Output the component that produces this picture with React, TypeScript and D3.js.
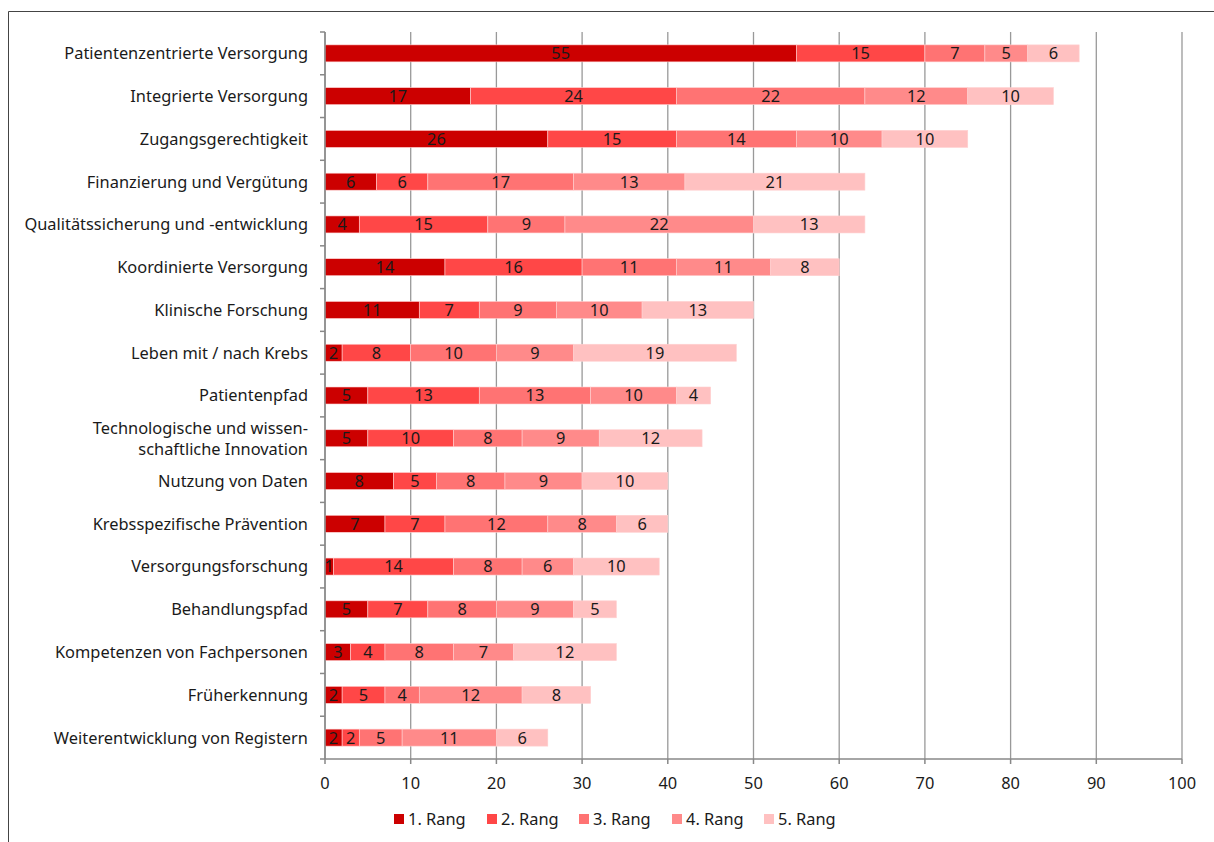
import React from "react";
import * as d3 from "d3";

const categories: string[][] = [
  ["Patientenzentrierte Versorgung"],
  ["Integrierte Versorgung"],
  ["Zugangsgerechtigkeit"],
  ["Finanzierung und Vergütung"],
  ["Qualitätssicherung und -entwicklung"],
  ["Koordinierte Versorgung"],
  ["Klinische Forschung"],
  ["Leben mit / nach Krebs"],
  ["Patientenpfad"],
  ["Technologische und wissen-", "schaftliche Innovation"],
  ["Nutzung von Daten"],
  ["Krebsspezifische Prävention"],
  ["Versorgungsforschung"],
  ["Behandlungspfad"],
  ["Kompetenzen von Fachpersonen"],
  ["Früherkennung"],
  ["Weiterentwicklung von Registern"],
];

const rang1 = [55, 17, 26, 6, 4, 14, 11, 2, 5, 5, 8, 7, 1, 5, 3, 2, 2];
const rang2 = [15, 24, 15, 6, 15, 16, 7, 8, 13, 10, 5, 7, 14, 7, 4, 5, 2];
const rang3 = [7, 22, 14, 17, 9, 11, 9, 10, 13, 8, 8, 12, 8, 8, 8, 4, 5];
const rang4 = [5, 12, 10, 13, 22, 11, 10, 9, 10, 9, 9, 8, 6, 9, 7, 12, 11];
const rang5 = [6, 10, 10, 21, 13, 8, 13, 19, 4, 12, 10, 6, 10, 5, 12, 8, 6];

const seriesNames = ["1. Rang", "2. Rang", "3. Rang", "4. Rang", "5. Rang"];
const seriesValues = [rang1, rang2, rang3, rang4, rang5];
const seriesColors = ["#CC0000", "#FF4747", "#FF7373", "#FF8A8A", "#FFC1C1"];
const xTicks = [0, 10, 20, 30, 40, 50, 60, 70, 80, 90, 100];

const FONT = "'Noto Sans', sans-serif";
const FS = 16.4;

export default function App() {
  const W = 1214;
  const H = 842;
  const left = 325;
  const right = 1182;
  const top = 32;
  const bottom = 759;
  const barH = 17;
  const lineGap = 21;

  const x = d3.scaleLinear().domain([0, 100]).range([left, right]);
  const y = d3
    .scaleBand<number>()
    .domain(d3.range(categories.length))
    .range([top, bottom]);
  const cy = (i: number) => (y(i) as number) + y.bandwidth() / 2;

  const rows = categories.map((c, i) => {
    let acc = 0;
    const segs = seriesValues.map((s, k) => {
      const v = s[i];
      const seg = { k, v, x0: acc, x1: acc + v };
      acc += v;
      return seg;
    });
    return { i, segs };
  });

  const legendX = [394, 487, 579, 672, 764];

  return (
    <svg
      width={W}
      height={H}
      style={{ position: "fixed", left: 0, top: 0, display: "block" }}
    >
      <rect x={0} y={0} width={W} height={H} fill="white" />
      <line x1={8.5} x2={W} y1={11.5} y2={11.5} stroke="#444" strokeWidth={1} />
      <line x1={8.5} x2={8.5} y1={11.5} y2={H} stroke="#444" strokeWidth={1} />
      {/* gridlines */}
      {xTicks.map((t) => (
        <line key={"g" + t} x1={x(t)} x2={x(t)} y1={top} y2={bottom} stroke="#999" strokeWidth={1.3} />
      ))}
      {/* bars */}
      {rows.map((r) =>
        r.segs.map((s) => (
          <rect
            key={r.i + "-" + s.k}
            x={x(s.x0)}
            y={cy(r.i) - barH / 2}
            width={x(s.x1) - x(s.x0)}
            height={barH}
            fill={seriesColors[s.k]}
            stroke="#FFD0D0"
            strokeWidth={0.6}
          />
        ))
      )}
      {/* value labels */}
      {rows.map((r) =>
        r.segs.map((s) => (
          <text
            key={"t" + r.i + "-" + s.k}
            x={(x(s.x0) + x(s.x1)) / 2}
            y={cy(r.i)}
            dy="0.36em"
            textAnchor="middle"
            fontFamily={FONT}
            fontSize={FS}
            fill="#1a1a1a"
          >
            {s.v}
          </text>
        ))
      )}
      {/* y axis */}
      <line x1={left} x2={left} y1={top} y2={bottom} stroke="#888" strokeWidth={1.5} />
      {d3.range(categories.length + 1).map((i) => {
        const yy = i < categories.length ? (y(i) as number) : bottom;
        return <line key={"yt" + i} x1={left - 5} x2={left} y1={yy} y2={yy} stroke="#888" strokeWidth={1.5} />;
      })}
      {/* category labels */}
      {categories.map((c, i) =>
        c.map((line, j) => (
          <text
            key={"c" + i + "-" + j}
            x={308}
            y={cy(i) + (j - (c.length - 1) / 2) * lineGap}
            dy="0.36em"
            textAnchor="end"
            fontFamily={FONT}
            fontSize={FS}
            fill="#1a1a1a"
          >
            {line}
          </text>
        ))
      )}
      {/* x axis */}
      <line x1={left} x2={right} y1={bottom} y2={bottom} stroke="#888" strokeWidth={1.5} />
      {xTicks.map((t) => (
        <g key={"xt" + t}>
          <line x1={x(t)} x2={x(t)} y1={bottom} y2={bottom + 5} stroke="#888" strokeWidth={1.5} />
          <text x={x(t)} y={783} dy="0.36em" textAnchor="middle" fontFamily={FONT} fontSize={FS} fill="#1a1a1a">
            {t}
          </text>
        </g>
      ))}
      {/* legend */}
      {seriesNames.map((n, k) => (
        <g key={"l" + k}>
          <rect x={legendX[k]} y={814} width={10} height={10} fill={seriesColors[k]} />
          <text x={legendX[k] + 14} y={819} dy="0.36em" fontFamily={FONT} fontSize={FS} fill="#1a1a1a">
            {n}
          </text>
        </g>
      ))}
    </svg>
  );
}
